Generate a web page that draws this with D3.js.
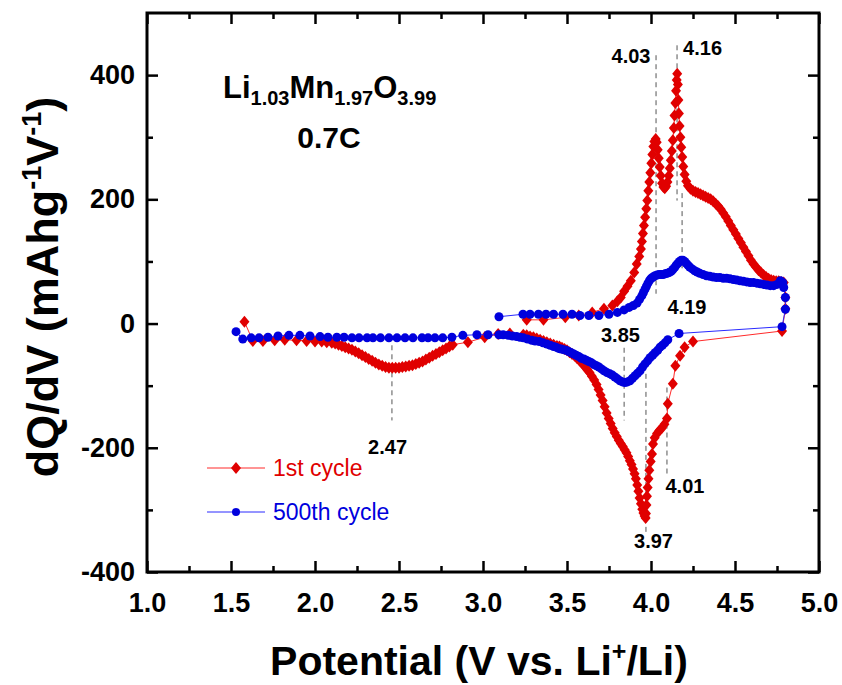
<!DOCTYPE html>
<html>
<head>
<meta charset="utf-8">
<script src="https://cdn.jsdelivr.net/npm/d3@7"></script>
<style>
  body { margin: 0; background: #fff; }
  svg { display: block; font-family: Arial, "Liberation Sans", sans-serif; }
</style>
</head>
<body>
<script>
// 1st cycle, in measurement order: [potential (V), dQ/dV (mAh g-1 V-1)]
const cycle1 = [
  [3.26, 6], [3.36, 6], [3.49, 10], [3.57, 13], [3.65, 18], [3.72, 24], [3.77, 29], [3.80, 36],
  [3.82, 42], [3.84, 52], [3.86, 60], [3.88, 69], [3.90, 82], [3.915, 96], [3.93, 108], [3.94, 120],
  [3.946, 132], [3.952, 145], [3.958, 158], [3.965, 171], [3.972, 185], [3.978, 198], [3.984, 214],
  [3.99, 228], [3.996, 243], [4.002, 258], [4.008, 272], [4.014, 285], [4.02, 293], [4.028, 297],
  [4.034, 292], [4.04, 280], [4.046, 266], [4.052, 252], [4.058, 238], [4.066, 226], [4.074, 220],
  [4.082, 218], [4.09, 221], [4.098, 228], [4.106, 238], [4.112, 250], [4.118, 263], [4.124, 278],
  [4.13, 295], [4.136, 315], [4.14, 335], [4.145, 355], [4.149, 375], [4.153, 392], [4.156, 402],
  [4.16, 385], [4.163, 360], [4.166, 338], [4.17, 318], [4.175, 300], [4.18, 284], [4.186, 268],
  [4.192, 253], [4.20, 240], [4.21, 229], [4.22, 222], [4.235, 217], [4.25, 214], [4.265, 212],
  [4.28, 210], [4.295, 208], [4.31, 206], [4.325, 204], [4.34, 202], [4.355, 200], [4.37, 197],
  [4.385, 193], [4.40, 189], [4.415, 184], [4.43, 178], [4.445, 172], [4.46, 165], [4.475, 158],
  [4.49, 151], [4.505, 144], [4.52, 137], [4.535, 130], [4.55, 123], [4.565, 116], [4.58, 109],
  [4.595, 102], [4.61, 96], [4.625, 91], [4.64, 86], [4.655, 82], [4.67, 78], [4.685, 75],
  [4.70, 72], [4.715, 70], [4.73, 69], [4.745, 68], [4.76, 68], [4.775, 67], [4.79, 66],
  [4.80, 42], [4.80, 24], [4.78, -12],
  [4.25, -29], [4.20, -38], [4.173, -52], [4.145, -68], [4.13, -97], [4.10, -129], [4.095, -153],
  [4.08, -162], [4.065, -168], [4.05, -172], [4.036, -177], [4.022, -184], [4.012, -194],
  [4.006, -210], [3.998, -222], [3.99, -236], [3.985, -250], [3.98, -264], [3.976, -278],
  [3.973, -292], [3.97, -306], [3.968, -313], [3.962, -310], [3.955, -305], [3.948, -299],
  [3.94, -290], [3.932, -281], [3.925, -270], [3.918, -260], [3.91, -250], [3.902, -242],
  [3.893, -234], [3.884, -227], [3.874, -221], [3.864, -214], [3.854, -208], [3.843, -203],
  [3.832, -198], [3.82, -193], [3.808, -188], [3.796, -182], [3.784, -176], [3.772, -169],
  [3.76, -161], [3.748, -153], [3.736, -144], [3.724, -134], [3.712, -124], [3.70, -115],
  [3.688, -106], [3.676, -98], [3.662, -91], [3.648, -85], [3.634, -79], [3.62, -74], [3.605, -69],
  [3.59, -64], [3.575, -60], [3.56, -56], [3.545, -52], [3.53, -49], [3.515, -46], [3.50, -43],
  [3.485, -41], [3.47, -39], [3.455, -37], [3.44, -36], [3.42, -34], [3.40, -32], [3.38, -30],
  [3.36, -28], [3.34, -26], [3.32, -24], [3.30, -22], [3.28, -21], [3.26, -19], [3.24, -18],
  [3.16, -16], [3.09, -17], [3.01, -22], [2.91, -30], [2.82, -34],
  [2.80, -37], [2.78, -40], [2.76, -43], [2.74, -46], [2.72, -49], [2.70, -52], [2.68, -55],
  [2.66, -58], [2.64, -61], [2.62, -63], [2.60, -65], [2.58, -67], [2.56, -68], [2.54, -69],
  [2.52, -70], [2.50, -71], [2.48, -71], [2.46, -71], [2.44, -71], [2.42, -70], [2.40, -68],
  [2.38, -66], [2.36, -63], [2.34, -60], [2.32, -57], [2.30, -54], [2.28, -51], [2.26, -48],
  [2.24, -45], [2.22, -42], [2.20, -40], [2.18, -38], [2.16, -36], [2.14, -34], [2.12, -32],
  [2.10, -31], [2.07, -30], [2.04, -29], [2.00, -29], [1.95, -28], [1.89, -27], [1.82, -26],
  [1.76, -27], [1.69, -28], [1.63, -28], [1.58, 3]
];

// 500th cycle
const cycle500 = [
  [3.095, 11], [3.238, 15], [3.28, 15], [3.33, 15], [3.375, 15], [3.42, 15], [3.476, 15], [3.53, 15],
  [3.577, 13], [3.63, 13], [3.69, 13], [3.75, 15], [3.80, 18], [3.84, 22], [3.87, 26], [3.895, 29],
  [3.917, 33], [3.932, 39], [3.946, 45], [3.955, 50], [3.964, 55], [3.973, 60], [3.982, 65],
  [3.992, 70], [4.002, 73], [4.012, 75], [4.024, 77], [4.036, 78], [4.048, 79], [4.06, 79],
  [4.072, 79], [4.084, 80], [4.096, 81], [4.108, 82], [4.12, 84], [4.13, 87], [4.14, 90],
  [4.15, 94], [4.16, 97], [4.17, 100], [4.18, 102], [4.19, 102], [4.20, 100], [4.21, 97],
  [4.22, 94], [4.23, 91], [4.245, 88], [4.26, 85], [4.275, 83], [4.29, 81], [4.31, 79], [4.33, 77],
  [4.35, 76], [4.37, 75], [4.39, 74], [4.41, 74], [4.43, 73], [4.45, 73], [4.47, 72], [4.49, 71],
  [4.51, 70], [4.53, 69], [4.55, 68], [4.57, 67], [4.59, 66], [4.61, 66], [4.63, 65], [4.65, 64],
  [4.67, 63], [4.69, 62], [4.71, 61], [4.73, 61], [4.75, 63], [4.77, 69], [4.785, 66], [4.79, 58],
  [4.80, 42], [4.80, 23], [4.78, -5],
  [4.167, -16], [4.10, -26], [4.083, -31], [4.068, -35], [4.054, -38], [4.04, -43], [4.024, -47],
  [4.01, -51], [3.994, -55], [3.98, -60], [3.964, -65], [3.95, -70], [3.935, -76], [3.92, -80],
  [3.905, -84], [3.89, -88], [3.875, -92], [3.86, -94], [3.845, -95], [3.83, -94], [3.815, -92],
  [3.80, -89], [3.785, -86], [3.77, -83], [3.755, -81], [3.738, -79], [3.72, -76], [3.705, -73],
  [3.69, -70], [3.675, -68], [3.66, -66], [3.645, -63], [3.63, -61], [3.615, -59], [3.60, -57],
  [3.585, -56], [3.57, -53], [3.555, -51], [3.54, -49], [3.525, -47], [3.51, -45], [3.495, -43],
  [3.48, -42], [3.465, -41], [3.45, -40], [3.435, -38], [3.42, -37], [3.40, -35], [3.38, -33],
  [3.357, -31], [3.335, -29], [3.31, -28], [3.29, -27], [3.265, -25], [3.24, -23], [3.22, -22],
  [3.20, -21], [3.175, -20], [3.15, -19], [3.12, -18], [3.095, -18], [3.03, -18], [2.964, -18],
  [2.88, -19], [2.815, -22], [2.76, -23], [2.714, -23], [2.673, -23], [2.637, -23], [2.583, -23],
  [2.536, -23], [2.488, -23], [2.44, -23], [2.39, -23], [2.345, -23], [2.31, -23], [2.262, -23],
  [2.22, -23], [2.173, -22], [2.13, -22], [2.077, -22], [2.03, -21], [1.97, -20], [1.91, -19],
  [1.845, -19], [1.78, -20], [1.72, -22], [1.667, -23], [1.62, -23], [1.57, -25], [1.53, -13]
];

const xMajor = [1.0, 1.5, 2.0, 2.5, 3.0, 3.5, 4.0, 4.5, 5.0],
      xMinor = [1.25, 1.75, 2.25, 2.75, 3.25, 3.75, 4.25, 4.75],
      yMajor = [-400, -200, 0, 200, 400],
      yMinor = [-300, -100, 100, 300];

// peak markers: label, label position, dashed guide (x, y from, y to)
const peaks = [
  { label: '4.03', lx: 3.881, ly: 419,  gx: 4.03,  gy: [432, 48] },
  { label: '4.16', lx: 4.307, ly: 432,  gx: 4.155, gy: [448, 198] },
  { label: '4.19', lx: 4.214, ly: 16,   gx: 4.185, gy: [210, 89] },
  { label: '3.85', lx: 3.818, ly: -29,  gx: 3.84,  gy: [-39, -156] },
  { label: '4.01', lx: 4.202, ly: -273, gx: 4.095, gy: [-103, -242] },
  { label: '3.97', lx: 4.015, ly: -361, gx: 3.97,  gy: [-81, -339] },
  { label: '2.47', lx: 2.432, ly: -210, gx: 2.458, gy: [-35, -156] }
];

const width = 842,
      height = 685,
      margin = { left: 147, right: 23, top: 13, bottom: 113 },
      red = '#e00000',
      blue = '#0000dd';

const xScale = d3.scaleLinear().domain([1, 5]).range([margin.left, width - margin.right]),
      yScale = d3.scaleLinear().domain([-400, 500]).range([height - margin.bottom, margin.top]);

const svg = d3.select('body').append('svg')
              .attr('width', width)
              .attr('height', height);

// guides first, under the markers
svg.append('g').selectAll('line')
   .data(peaks)
   .enter().append('line')
   .attr('x1', d => xScale(d.gx)).attr('x2', d => xScale(d.gx))
   .attr('y1', d => yScale(d.gy[0])).attr('y2', d => yScale(d.gy[1]))
   .attr('stroke', '#555').attr('stroke-width', 1).attr('stroke-dasharray', '5,4');

const line = d3.line().x(d => xScale(d[0])).y(d => yScale(d[1]));
const diamond = 'M0,-6L5,0L0,6L-5,0Z';

svg.append('path').datum(cycle1)
   .attr('d', line).attr('fill', 'none').attr('stroke', '#ff2a2a').attr('stroke-width', 1);

svg.append('g').selectAll('path')
   .data(cycle1)
   .enter().append('path')
   .attr('d', diamond)
   .attr('transform', d => 'translate(' + xScale(d[0]) + ',' + yScale(d[1]) + ')')
   .attr('fill', red);

svg.append('path').datum(cycle500)
   .attr('d', line).attr('fill', 'none').attr('stroke', '#2a2aff').attr('stroke-width', 1);

svg.append('g').selectAll('circle')
   .data(cycle500)
   .enter().append('circle')
   .attr('cx', d => xScale(d[0]))
   .attr('cy', d => yScale(d[1]))
   .attr('r', 4.5)
   .attr('fill', blue);

// peak labels
svg.append('g').selectAll('text')
   .data(peaks)
   .enter().append('text')
   .attr('x', d => xScale(d.lx))
   .attr('y', d => yScale(d.ly))
   .attr('text-anchor', 'middle')
   .attr('font-size', 20).attr('font-weight', 'bold')
   .text(d => d.label);

// axes, ticks pointing inward on all four sides
const x0 = margin.left, x1 = width - margin.right,
      y0 = height - margin.bottom, y1 = margin.top;

function styleAxis(g) {
  g.select('.domain').remove();
  g.selectAll('line').attr('stroke', '#000').attr('stroke-width', 2.5);
  g.selectAll('text').attr('fill', '#000').attr('font-size', 27).attr('font-weight', 'bold')
   .attr('font-family', 'Arial, "Liberation Sans", sans-serif');
}

svg.append('g').attr('transform', 'translate(0,' + y0 + ')')
   .call(d3.axisBottom(xScale).tickValues(xMajor).tickFormat(d => d.toFixed(1)).tickSizeInner(-11).tickSizeOuter(0).tickPadding(21))
   .call(styleAxis);
svg.append('g').attr('transform', 'translate(0,' + y0 + ')')
   .call(d3.axisBottom(xScale).tickValues(xMinor).tickFormat('').tickSizeInner(-6).tickSizeOuter(0))
   .call(styleAxis);
svg.append('g').attr('transform', 'translate(0,' + y1 + ')')
   .call(d3.axisTop(xScale).tickValues(xMajor).tickFormat('').tickSizeInner(-11).tickSizeOuter(0))
   .call(styleAxis);
svg.append('g').attr('transform', 'translate(0,' + y1 + ')')
   .call(d3.axisTop(xScale).tickValues(xMinor).tickFormat('').tickSizeInner(-6).tickSizeOuter(0))
   .call(styleAxis);

svg.append('g').attr('transform', 'translate(' + x0 + ',0)')
   .call(d3.axisLeft(yScale).tickValues(yMajor).tickFormat(d => String(d)).tickSizeInner(-11).tickSizeOuter(0).tickPadding(12))
   .call(styleAxis);
svg.append('g').attr('transform', 'translate(' + x0 + ',0)')
   .call(d3.axisLeft(yScale).tickValues(yMinor).tickFormat('').tickSizeInner(-6).tickSizeOuter(0))
   .call(styleAxis);
svg.append('g').attr('transform', 'translate(' + x1 + ',0)')
   .call(d3.axisRight(yScale).tickValues(yMajor).tickFormat('').tickSizeInner(-11).tickSizeOuter(0))
   .call(styleAxis);
svg.append('g').attr('transform', 'translate(' + x1 + ',0)')
   .call(d3.axisRight(yScale).tickValues(yMinor).tickFormat('').tickSizeInner(-6).tickSizeOuter(0))
   .call(styleAxis);

svg.append('rect')
   .attr('x', x0).attr('y', y1)
   .attr('width', x1 - x0).attr('height', y0 - y1)
   .attr('fill', 'none').attr('stroke', '#000').attr('stroke-width', 3);

// axis titles
const xTitle = svg.append('text')
                  .attr('x', (x0 + x1) / 2 - 4).attr('y', 675)
                  .attr('text-anchor', 'middle')
                  .attr('font-size', 41).attr('font-weight', 'bold');
xTitle.append('tspan').text('Potential (V vs. Li');
xTitle.append('tspan').attr('font-size', 25).attr('dy', -15).text('+');
xTitle.append('tspan').attr('dy', 15).text('/Li)');

const yTitle = svg.append('text')
                  .attr('transform', 'translate(58,' + 287 + ') rotate(-90)')
                  .attr('text-anchor', 'middle')
                  .attr('font-size', 45).attr('font-weight', 'bold');
yTitle.append('tspan').text('dQ/dV (mAhg');
yTitle.append('tspan').attr('font-size', 27).attr('dy', -17).text('-1');
yTitle.append('tspan').attr('dy', 17).text('V');
yTitle.append('tspan').attr('font-size', 27).attr('dy', -17).text('-1');
yTitle.append('tspan').attr('dy', 17).text(')');

// sample annotation
const formula = svg.append('text')
                   .attr('x', 223).attr('y', 105)
                   .attr('font-size', 31).attr('font-weight', 'bold');
[['Li', '1.03'], ['Mn', '1.97'], ['O', '3.99']].forEach(function(p) {
  formula.append('tspan').attr('dy', formula.selectAll('tspan').size() ? -7 : 0).text(p[0]);
  formula.append('tspan').attr('font-size', 20).attr('dy', 7).text(p[1]);
});
svg.append('text')
   .attr('x', 329).attr('y', 148)
   .attr('text-anchor', 'middle')
   .attr('font-size', 30).attr('font-weight', 'bold')
   .text('0.7C');

// legend
const legendItems = [
  { name: '1st cycle', color: red, line: '#ff2a2a', shape: 'diamond', y: 468 },
  { name: '500th cycle', color: blue, line: '#2a2aff', shape: 'circle', y: 512 }
];
const legend = svg.append('g').selectAll('g')
                  .data(legendItems)
                  .enter().append('g')
                  .attr('transform', d => 'translate(207,' + d.y + ')');
legend.append('line')
      .attr('x1', 0).attr('x2', 58)
      .attr('stroke', d => d.line).attr('stroke-width', 1);
legend.filter(d => d.shape === 'diamond').append('path')
      .attr('d', diamond).attr('transform', 'translate(29,0)').attr('fill', d => d.color);
legend.filter(d => d.shape === 'circle').append('circle')
      .attr('cx', 29).attr('r', 4).attr('fill', d => d.color);
legend.append('text')
      .attr('x', 66).attr('dy', '0.35em')
      .attr('font-size', 23)
      .attr('fill', d => d.color)
      .text(d => d.name);
</script>
</body>
</html>
